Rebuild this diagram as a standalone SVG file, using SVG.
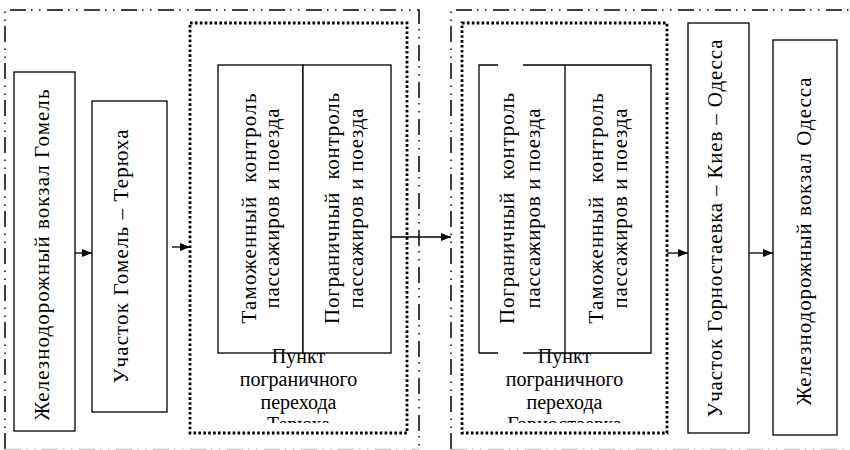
<svg xmlns="http://www.w3.org/2000/svg" width="850" height="450" viewBox="0 0 850 450">
  <style>
    .box { fill: #ffffff; stroke: #000000; stroke-width: 1.3; }
    .edge { fill: none; stroke: #000000; stroke-width: 1.3; }
    .frame { fill: none; stroke: #000000; stroke-width: 1.5; stroke-dasharray: 16 5 1.5 6.5 1.5 6.5; }
    .frame-low { fill: none; stroke: #c4c4c4; stroke-width: 1.5; stroke-dasharray: 16 5 1.5 6.5 1.5 6.5; }
    .dotted { fill: none; stroke: #000000; stroke-width: 2.8; stroke-dasharray: 2.6 2.3; }
    .lbl { font-family: "Liberation Serif", "Times New Roman", serif; font-size: 20px; fill: #000000; }
    .vert { font-size: 21px; }
    .mid { text-anchor: middle; }
    .conn { stroke: #000000; stroke-width: 1.3; fill: none; marker-end: url(#head); }
  </style>
  <defs>
    <marker id="head" markerUnits="userSpaceOnUse" markerWidth="10" markerHeight="8" refX="10" refY="4" orient="auto">
      <path d="M0,0 L10,4 L0,8 Z" fill="#000000"/>
    </marker>
    <clipPath id="clipA"><rect x="192" y="330" width="212" height="93"/></clipPath>
    <clipPath id="clipB"><rect x="464" y="330" width="200" height="93"/></clipPath>
  </defs>

  <!-- country frames -->
  <g id="frame-belarus">
    <path class="frame" d="M5,449 V10 H419 V449"/>
    <line class="frame-low" x1="5" y1="449.5" x2="419" y2="449.5"/>
  </g>
  <g id="frame-ukraine">
    <path class="frame" d="M451,449 V10 H850"/>
    <line class="frame-low" x1="451" y1="449.5" x2="850" y2="449.5"/>
  </g>

  <g id="station-gomel">
    <rect class="box" x="14" y="72" width="61" height="359"/>
    <text class="lbl vert mid" transform="translate(48.5,255) rotate(-90)" textLength="331" lengthAdjust="spacing">Железнодорожный вокзал Гомель</text>
  </g>

  <g id="section-gomel-teryukha">
    <rect class="box" x="92" y="101" width="75" height="311"/>
    <text class="lbl vert mid" transform="translate(127.5,256.5) rotate(-90)" textLength="254" lengthAdjust="spacing">Участок Гомель – Терюха</text>
  </g>

  <g id="checkpoint-teryukha">
    <rect class="dotted" x="190" y="23" width="217" height="410"/>
    <rect class="box" x="218" y="65" width="85" height="288"/>
    <rect class="box" x="303" y="65" width="88" height="288"/>
    <text class="lbl vert mid" transform="translate(260.5,208.5) rotate(-90)" xml:space="preserve"><tspan x="0" y="-5" textLength="230" lengthAdjust="spacing">Таможенный  контроль</tspan><tspan x="0" y="18" textLength="200" lengthAdjust="spacing">пассажиров и поезда</tspan></text>
    <text class="lbl vert mid" transform="translate(347,208.5) rotate(-90)" xml:space="preserve"><tspan x="0" y="-8.5" textLength="231" lengthAdjust="spacing">Пограничный  контроль</tspan><tspan x="0" y="16" textLength="200" lengthAdjust="spacing">пассажиров и поезда</tspan></text>
    <text class="lbl mid" clip-path="url(#clipA)"><tspan x="298.5" y="363">Пункт</tspan><tspan x="298.5" y="386">пограничного</tspan><tspan x="298.5" y="408.5">перехода</tspan><tspan x="298.5" y="431">Терюха</tspan></text>
  </g>

  <g id="checkpoint-gornostaevka">
    <rect class="dotted" x="462" y="23" width="205" height="410"/>
    <path class="edge" d="M498,65 H479 V353 H498 M523,353 H651 V65 H523 M565,65 V353"/>
    <text class="lbl vert mid" transform="translate(522,208.5) rotate(-90)" xml:space="preserve"><tspan x="0" y="-8" textLength="231" lengthAdjust="spacing">Пограничный  контроль</tspan><tspan x="0" y="18" textLength="200" lengthAdjust="spacing">пассажиров и поезда</tspan></text>
    <text class="lbl vert mid" transform="translate(608,208.5) rotate(-90)" xml:space="preserve"><tspan x="0" y="-5" textLength="230" lengthAdjust="spacing">Таможенный  контроль</tspan><tspan x="0" y="19" textLength="200" lengthAdjust="spacing">пассажиров и поезда</tspan></text>
    <text class="lbl mid" clip-path="url(#clipB)"><tspan x="564.5" y="363">Пункт</tspan><tspan x="564.5" y="386">пограничного</tspan><tspan x="564.5" y="408.5">перехода</tspan><tspan x="564.5" y="431">Горностаевка</tspan></text>
  </g>

  <g id="section-gornostaevka-kiev-odessa">
    <rect class="box" x="688" y="23" width="61" height="410"/>
    <text class="lbl vert mid" transform="translate(721.5,228.5) rotate(-90)" textLength="378" lengthAdjust="spacing">Участок Горностаевка – Киев – Одесса</text>
  </g>

  <g id="station-odessa">
    <rect class="box" x="773" y="40" width="64" height="395"/>
    <text class="lbl vert mid" transform="translate(810.5,241.5) rotate(-90)" textLength="328" lengthAdjust="spacing">Железнодорожный вокзал Одесса</text>
  </g>

  <!-- flow of the train -->
  <g id="connectors">
    <line class="conn" x1="75" y1="253" x2="92" y2="253"/>
    <line class="conn" x1="172" y1="247" x2="190" y2="247"/>
    <line class="conn" x1="391" y1="237" x2="451" y2="237"/>
    <line class="conn" x1="667" y1="253" x2="688" y2="253"/>
    <line class="conn" x1="749" y1="253" x2="773" y2="253"/>
  </g>
</svg>
